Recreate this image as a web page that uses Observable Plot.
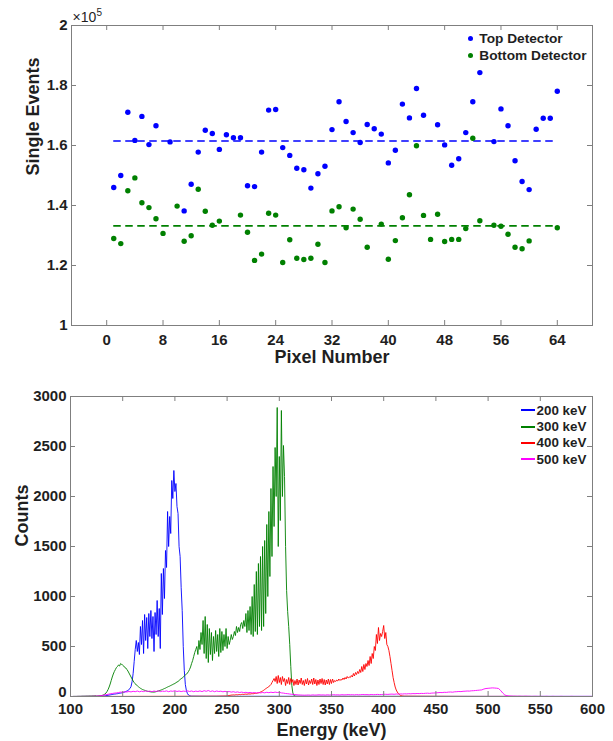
<!DOCTYPE html>
<html><head><meta charset="utf-8">
<script src="https://cdn.jsdelivr.net/npm/d3@7"></script>
<script src="https://cdn.jsdelivr.net/npm/@observablehq/plot@0.6"></script>
<style>
body{margin:0;background:#fff;}
#wrap{position:relative;width:613px;height:741px;font-family:"Liberation Sans",Arial,Helvetica,sans-serif;font-weight:bold;color:#1f1f1f;overflow:hidden;}
#wrap svg{position:absolute;left:0;}
.legend{position:absolute;white-space:nowrap;font-size:13.7px;}
.legend .row{display:flex;align-items:center;}
</style></head><body><div id="wrap"></div>
<script>
// ---------- Top panel data (values in units of 10^5) ----------
const pixelNumbers = [1,2,3,4,5,6,7,8,9,10,11,12,13,14,15,16,17,18,19,20,21,22,23,24,25,26,27,28,29,30,31,32,
  33,34,35,36,37,38,39,40,41,42,43,44,45,46,47,48,49,50,51,52,53,54,55,56,57,58,59,60,61,62,63,64];
const topDetector = [1.460,1.500,1.711,1.617,1.697,1.603,1.666,null,1.612,null,1.382,1.471,1.578,1.651,1.640,1.587,
  1.636,1.626,1.626,1.466,1.463,1.578,1.718,1.720,1.593,1.567,1.524,1.519,1.458,1.506,1.531,1.653,
  1.746,1.680,1.643,1.610,1.670,1.656,1.638,1.542,1.584,1.738,1.692,1.790,1.701,null,1.669,1.602,
  1.534,1.556,1.643,1.746,1.843,null,1.613,1.722,1.666,1.549,1.480,1.453,1.654,1.691,1.691,1.781];
const bottomDetector = [1.290,1.273,1.449,1.492,1.409,1.393,1.356,1.307,null,1.398,1.281,1.299,1.454,1.381,1.334,1.348,
  null,null,1.368,1.311,1.217,1.238,1.374,1.368,1.210,1.286,1.224,1.220,1.224,1.271,1.210,1.382,
  1.396,1.326,1.388,1.354,1.261,null,1.338,1.221,1.283,1.359,1.436,1.599,1.367,1.287,1.371,1.280,
  1.287,1.287,1.323,1.624,1.349,null,1.334,1.331,1.304,1.261,1.256,1.282,null,null,null,1.326];
const topMean = 1.615;
const bottomMean = 1.332;
const pixelTicks = [0,8,16,24,32,40,48,56,64];
const singleTicks = [1,1.2,1.4,1.6,1.8,2];
const detectorLabels = ["Top Detector","Bottom Detector"];

// ---------- Bottom panel data (counts per 1 keV bin unless noted) ----------
const energyTicks = [100,150,200,250,300,350,400,450,500,550,600];
const countTicks = [0,500,1000,1500,2000,2500,3000];
const spectrumLabels = ["200 keV","300 keV","400 keV","500 keV"];

const head200 = [[100,0],[115,1],[125,1]];
const start200 = 130, step200 = 1;
const counts200 = [2,3,5,6,8,10,12,14,16,18,20,22,24,25,27,28,30,32,34,36,
  40,42,45,50,55,60,70,80,100,150,230,350,470,
  560,450,540,420,700,520,760,430,820,560,790,480,830,600,860,580,800,450,840,620,960,600,880,480,
  1230,820,1280,980,1460,1290,1850,1500,1800,1630,2160,1980,2260,2050,2130,1900,1830,1500,1400,1090,860,500,260,120,60,30,15,8,5,3];
const tail200 = [[230,2],[300,2],[400,1],[500,1],[600,1]];

const head300 = [];
const start300 = 100, step300 = 1;
const counts300 = [0,0,0,1,1,1,1,2,2,2,2,3,3,3,3,4,4,4,5,5,5,6,6,7,8,
  4,5,6,7,8,10,13,18,25,35,50,70,95,125,160,195,225,250,270,290,300,315,305,330,320,
  315,305,290,285,270,255,235,215,195,175,155,140,128,115,108,98,90,82,76,70,66,62,58,55,52,
  50,48,46,45,45,44,46,48,52,55,58,62,66,70,75,80,84,90,95,100,104,110,115,120,126,
  130,138,145,150,160,170,178,185,195,205,215,222,235,250,270,295,330,360,400,440,470,500,420,560,470,
  640,520,760,430,800,380,720,340,680,420,640,360,600,430,660,450,620,400,680,440,650,460,620,500,680,
  480,600,520,560,620,570,600,650,610,700,640,690,650,720,740,680,760,700,830,640,860,660,900,620,1000,
  600,1120,650,1250,620,1330,700,1400,660,1500,700,1560,830,1720,1000,1850,1200,2080,1400,2300,1700,2490,2000,2890,1500,
  2400,1760,2860,2000,2510,2200,1500,1060,850,700,520,300,110,35,10,4,2];
const tail300 = [[330,1],[400,1],[500,0],[600,0]];

const head400 = [[100,0],[150,1],[200,2],[240,3]];
const start400 = 250, step400 = 1;
const counts400 = [5,8,10,12,14,15,16,15,17,18,17,19,20,18,21,22,20,23,24,22,25,26,24,27,28,
  27,30,32,31,34,36,40,45,50,55,62,70,78,85,92,100,108,120,140,160,180,150,200,130,210,
  140,190,120,200,150,180,110,170,130,190,120,180,140,170,110,160,120,175,115,165,130,185,120,160,110,
  170,125,180,115,160,130,175,120,185,125,170,110,165,120,175,130,180,120,170,115,165,125,175,120,170,
  130,175,140,160,150,165,155,175,160,170,165,185,170,190,175,200,185,195,190,210,195,230,205,240,220,
  250,230,270,240,300,250,320,270,330,300,360,310,400,330,430,380,500,460,620,530,690,560,630,600,650,
  710,580,640,520,500,460,400,330,260,190,140,95,65,45,30,20,12,8,5,4,3];
const tail400 = [[440,2],[480,1],[520,1],[560,0],[600,0]];

const head500 = [[100,0],[110,1]];
const start500 = 120, step500 = 2;
const counts500 = [2,3,4,5,7,10,14,18,22,27,30,34,36,40,44,
  42,48,45,50,46,52,48,55,47,53,49,56,50,54,48,55,50,57,49,54,51,56,48,55,52,
  58,50,55,49,54,51,57,50,55,48,54,50,56,49,58,52,60,50,56,48,55,50,53,47,52,
  46,50,44,48,42,46,40,44,38,42,37,41,36,40,35,39,36,40,37,42,38,43,39,44,40,
  42,36,34,30,28,25,22,20,18,16,15,14,13,
  14,15,13,16,14,15,17,15,16,14,17,15,16,18,16,17,15,18,16,17,19,17,18,16,19,17,18,20,18,19,17,20,18,19,21,19,20,22,
  22,21,23,24,22,25,24,26,25,27,26,28,27,29,28,30,29,31,30,32,33,31,34,35,36,
  38,40,39,42,41,44,45,43,47,48,50,49,52,53,55,54,57,58,60,62,64,66,
  75,80,82,84,86,85,83,80,60,35,15,8,5,
  4,3,3,2,3,2,2,3,2,2,1,2,2,1,2,1,1,2,1,1,2,1,1,1,2,1,1,1,1,2,1,1,1,1,1,1,1,1,1,1];
const tail500 = [];

// ---------- styles ----------
const FONT = '"Liberation Sans", Arial, Helvetica, sans-serif';
const FRAME = "#7f7f7f";
const BLUE = "#0000ff", GREEN = "#008000", RED = "#ff0000", MAGENTA = "#ff00ff";
const spectrumColors = [BLUE, GREEN, RED, MAGENTA];
const W = 613;

const rowsOf = (head, start, step, counts, tail) =>
  [...head, ...counts.map((c, i) => [start + i * step, c]), ...tail];

function inwardTicks(xDom, yDom, xTicks, yTicks, pw, ph, len) {
  const lx = len * (xDom[1] - xDom[0]) / pw, ly = len * (yDom[1] - yDom[0]) / ph;
  const xt = xTicks.filter(t => t > xDom[0] && t < xDom[1]);
  const yt = yTicks.filter(t => t > yDom[0] && t < yDom[1]);
  const o = {stroke: FRAME, strokeWidth: 1};
  return [
    Plot.ruleX(xt, {x: d => d, y1: yDom[0], y2: yDom[0] + ly, ...o}),
    Plot.ruleX(xt, {x: d => d, y1: yDom[1] - ly, y2: yDom[1], ...o}),
    Plot.ruleY(yt, {y: d => d, x1: xDom[0], x2: xDom[0] + lx, ...o}),
    Plot.ruleY(yt, {y: d => d, x1: xDom[1] - lx, x2: xDom[1], ...o})
  ];
}

const svgStyle = {fontFamily: FONT, fontSize: "15px", fontWeight: "bold", color: "#1f1f1f", background: "transparent", overflow: "visible"};

// ---------- Top panel ----------
const tM = {top: 25, bottom: 47, left: 71, right: 21}, tH = 372;
const tX = [-5, 69], tY = [1, 2];
const topPlot = Plot.plot({
  width: W, height: tH,
  marginTop: tM.top, marginBottom: tM.bottom, marginLeft: tM.left, marginRight: tM.right,
  style: svgStyle,
  x: {domain: tX}, y: {domain: tY},
  marks: [
    Plot.axisX(pixelTicks, {anchor: "bottom", tickSize: 0, tickPadding: 9, label: null, tickFormat: d => String(d)}),
    Plot.axisY(singleTicks, {anchor: "left", tickSize: 0, tickPadding: 4, label: null, tickFormat: d3.format("~g")}),
    ...inwardTicks(tX, tY, pixelTicks, singleTicks, W - tM.left - tM.right, tH - tM.top - tM.bottom, 5),
    Plot.ruleY([topMean], {x1: pixelNumbers[0], x2: pixelNumbers[pixelNumbers.length - 1], stroke: BLUE, strokeWidth: 1.6, strokeDasharray: "7.5,4.5"}),
    Plot.ruleY([bottomMean], {x1: pixelNumbers[0], x2: pixelNumbers[pixelNumbers.length - 1], stroke: GREEN, strokeWidth: 1.6, strokeDasharray: "7.5,4.5"}),
    Plot.dot(pixelNumbers, {x: d => d, y: (d, i) => topDetector[i], r: 2.7, fill: BLUE}),
    Plot.dot(pixelNumbers, {x: d => d, y: (d, i) => bottomDetector[i], r: 2.7, fill: GREEN}),
    Plot.frame({stroke: FRAME}),
    Plot.text(["Pixel Number"], {text: d => d, frameAnchor: "bottom", lineAnchor: "bottom", dy: 37, fontSize: 18, fontWeight: "bold"}),
    Plot.text(["Single Events"], {text: d => d, frameAnchor: "left", rotate: -90, dx: -38, lineAnchor: "middle", fontSize: 18, fontWeight: "bold"}),
    Plot.text(["\u00d710"], {text: d => d, frameAnchor: "top-left", textAnchor: "start", lineAnchor: "bottom", dx: 1, dy: -3.3, fontSize: 14, fontWeight: "normal"}),
    Plot.text(["5"], {text: d => d, frameAnchor: "top-left", textAnchor: "start", lineAnchor: "bottom", dx: 25, dy: -10, fontSize: 10, fontWeight: "normal"})
  ]
});
topPlot.style.top = "0px";

// ---------- Bottom panel ----------
const bTop = 372;
const bM = {top: 24, bottom: 45, left: 70, right: 21}, bH = 741 - bTop;
const bX = [100, 600], bY = [0, 3000];
const spectra = [
  rowsOf(head200, start200, step200, counts200, tail200),
  rowsOf(head300, start300, step300, counts300, tail300),
  rowsOf(head400, start400, step400, counts400, tail400),
  rowsOf(head500, start500, step500, counts500, tail500)
];
const bottomPlot = Plot.plot({
  width: W, height: bH,
  marginTop: bM.top, marginBottom: bM.bottom, marginLeft: bM.left, marginRight: bM.right,
  style: svgStyle,
  x: {domain: bX}, y: {domain: bY},
  marks: [
    Plot.axisX(energyTicks, {anchor: "bottom", tickSize: 0, tickPadding: 7, label: null, tickFormat: d => String(d)}),
    Plot.axisY(countTicks.filter(t => t !== bY[0]), {anchor: "left", tickSize: 0, tickPadding: 4, label: null, tickFormat: d => String(d)}),
    Plot.axisY([countTicks[0]], {anchor: "left", tickSize: 0, tickPadding: 4, dy: -4, label: null, tickFormat: d => String(d)}),
    ...spectra.map((rows, k) => Plot.line(rows, {x: d => d[0], y: d => d[1], stroke: spectrumColors[k], strokeWidth: 0.9})),
    ...inwardTicks(bX, bY, energyTicks, countTicks, W - bM.left - bM.right, bH - bM.top - bM.bottom, 5),
    Plot.frame({stroke: FRAME}),
    Plot.text(["Energy (keV)"], {text: d => d, frameAnchor: "bottom", lineAnchor: "bottom", dy: 39, fontSize: 18, fontWeight: "bold"}),
    Plot.text(["Counts"], {text: d => d, frameAnchor: "left", rotate: -90, dx: -48.3, lineAnchor: "middle", fontSize: 18, fontWeight: "bold"})
  ]
});
bottomPlot.style.top = bTop + "px";

const wrap = document.getElementById("wrap");
wrap.appendChild(topPlot);
wrap.appendChild(bottomPlot);

// ---------- Legends ----------
const lg1 = document.createElement("div");
lg1.className = "legend";
lg1.style.left = "466px"; lg1.style.top = "30px";
[BLUE, GREEN].forEach((c, i) => {
  const row = document.createElement("div");
  row.className = "row"; row.style.height = "16.7px";
  const dot = document.createElement("span");
  dot.style.cssText = `display:inline-block;width:5px;height:5px;border-radius:50%;background:${c};margin-left:1.5px;margin-right:6.8px;`;
  const t = document.createElement("span"); t.textContent = detectorLabels[i];
  row.appendChild(dot); row.appendChild(t); lg1.appendChild(row);
});
wrap.appendChild(lg1);

const lg2 = document.createElement("div");
lg2.className = "legend";
lg2.style.left = "521px"; lg2.style.top = "402px"; lg2.style.fontSize = "13.4px";
spectrumColors.forEach((c, i) => {
  const row = document.createElement("div");
  row.className = "row"; row.style.height = "16.4px";
  const ln = document.createElement("span");
  ln.style.cssText = `display:inline-block;width:14px;height:2px;background:${c};margin-right:1.5px;`;
  const t = document.createElement("span"); t.textContent = spectrumLabels[i];
  row.appendChild(ln); row.appendChild(t); lg2.appendChild(row);
});
wrap.appendChild(lg2);
</script></body></html>
